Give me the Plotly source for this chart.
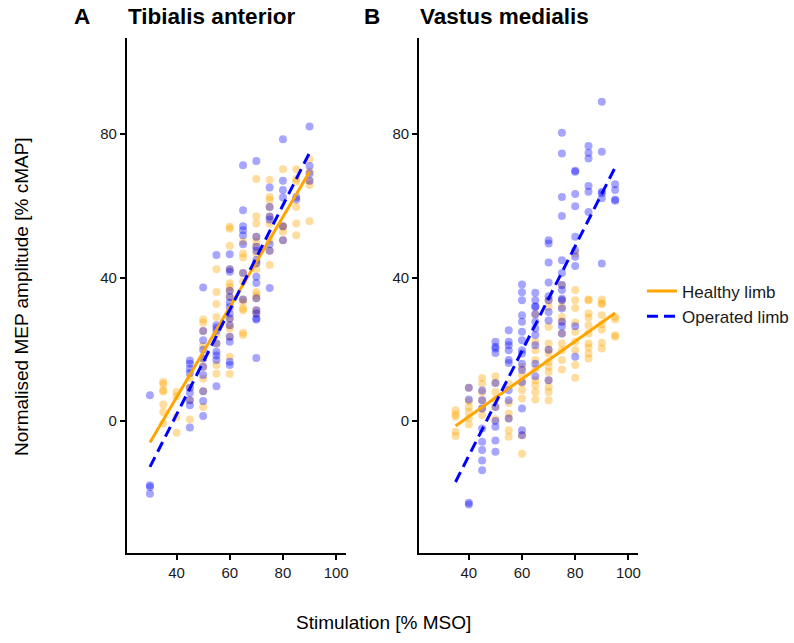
import plotly.graph_objects as go

# ---------------- data (stimulation level, [normalised MEP amplitudes]) ----------------
ta_healthy = [
    (35, [10.9, 10.3, 8.6, 8.2, 4.6, 2.5, -0.7]),
    (40, [8.1, 6.9, 1.1, -3.3]),
    (45, [12.0, 9.3, 5.8, 0.4]),
    (50, [28.3, 27.4, 25.1, 20.9, 17.4, 15.1, 11.8, 8.3, 3.9]),
    (55, [42.3, 36.0, 32.6, 29.0, 24.2, 21.6, 15.6, 13.2]),
    (60, [54.2, 53.6, 48.9, 42.3, 38.4, 37.4, 36.3, 34.6, 28.6, 26.7, 25.8, 23.5, 17.9, 13.2]),
    (65, [50.0, 46.7, 45.6, 41.3, 38.8, 33.9, 33.2, 31.4, 30.9, 24.6, 24.0]),
    (70, [67.5, 57.1, 55.1, 51.4, 50.0, 48.6, 46.7, 44.0, 42.3, 36.0, 35.1, 34.2, 30.9, 30.0]),
    (75, [67.2, 62.5, 61.6, 59.7, 57.0, 55.1, 50.5, 47.5, 43.5]),
    (80, [70.2, 54.2, 54.3, 52.8, 50.4]),
    (85, [70.2, 67.5, 66.8, 59.7, 55.1, 51.8]),
    (90, [73.0, 69.5, 67.0, 65.8, 55.7]),
]
ta_operated = [
    (30, [7.2, -17.9, -18.4, -20.3]),
    (45, [16.9, 16.0, 14.6, 13.4, 9.3, 7.8, 5.8, 4.4, -1.8]),
    (50, [37.2, 25.1, 22.5, 19.9, 17.4, 15.1, 12.8, 8.3, 5.6, 1.4]),
    (55, [46.3, 26.7, 26.0, 25.1, 21.6, 19.3, 18.3, 17.0, 9.7]),
    (60, [46.5, 42.3, 41.6, 36.3, 34.6, 33.0, 31.8, 30.0, 28.6, 26.7, 23.5, 22.1, 16.5, 15.6]),
    (65, [71.3, 58.8, 54.3, 53.2, 51.8, 49.3, 41.3, 33.9]),
    (70, [72.5, 51.4, 48.6, 47.5, 44.9, 44.0, 40.2, 38.5, 34.2, 30.9, 30.0, 28.6, 28.3, 17.6]),
    (75, [65.1, 59.7, 57.0, 56.2, 49.3, 47.5, 37.1]),
    (80, [78.6, 67.0, 64.4, 62.3, 54.3, 50.4]),
    (85, [62.5, 61.8]),
    (90, [82.1, 71.1, 69.0, 67.0]),
]
vm_healthy = [
    (35, [3.0, 1.9, 1.2, -3.0, -4.2]),
    (40, [9.3, 5.5, 3.9, 2.5, 0.8, -1.0]),
    (45, [12.0, 10.4, 8.1, 5.8, 3.5, 1.6]),
    (50, [12.5, 10.6, 8.1, 6.0, 3.9, 0.5]),
    (55, [10.4, 5.0, 2.1, 0.7, -2.6, -4.4]),
    (60, [15.0, 12.8, 10.5, 8.6, 6.3, -4.0, -9.1]),
    (65, [29.8, 22.0, 19.7, 17.0, 14.6, 11.4, 10.0, 8.1, 6.0]),
    (70, [33.7, 31.8, 26.3, 21.6, 19.9, 18.8, 16.5, 15.1, 13.7, 11.4, 9.5, 8.1, 5.8]),
    (75, [37.9, 33.7, 31.8, 29.0, 27.7, 24.4, 21.6, 19.7, 17.0, 14.4]),
    (80, [46.7, 36.5, 33.7, 31.5, 27.5, 24.9, 22.1, 19.7, 15.6, 12.1]),
    (85, [33.9, 33.7, 30.0, 28.9, 26.7, 24.4, 21.6, 20.5, 18.8, 17.4]),
    (90, [33.9, 32.8, 32.6, 29.5, 27.0, 25.5, 21.8, 20.2]),
    (95, [29.0, 28.3, 23.9, 23.5]),
]
vm_operated = [
    (40, [9.3, 6.0, -22.8, -23.3]),
    (45, [8.5, 5.8, 3.5, -2.1, -5.8, -8.1, -11.0, -13.7]),
    (50, [22.1, 20.7, 20.2, 19.0, 10.6, 3.9, 0.0, -1.6, -5.4, -8.6]),
    (55, [25.3, 22.1, 21.1, 19.7, 17.0, 16.2, 8.6, 5.8, 0.7]),
    (60, [38.1, 35.9, 33.7, 29.5, 27.7, 24.9, 22.5, 19.7, 18.8, 16.0, 14.2, 10.9, 3.5, -2.6, -4.0]),
    (65, [35.8, 33.7, 32.0, 31.8, 29.8, 27.7, 25.8, 24.0, 21.1, 16.0, 12.5]),
    (70, [50.4, 49.5, 44.2, 38.6, 34.8, 33.7, 30.4, 28.0, 19.9, 11.4]),
    (75, [80.4, 74.6, 62.5, 57.2, 44.8, 41.3, 37.9, 36.5, 34.1, 33.7, 31.4, 27.7, 26.4, 24.4]),
    (80, [69.8, 69.5, 63.3, 59.9, 51.4, 47.6, 45.8, 43.2, 26.4, 17.9]),
    (85, [76.7, 74.8, 73.2, 65.5, 63.9, 58.3]),
    (90, [89.0, 75.1, 63.9, 63.5, 62.1, 43.9]),
    (95, [66.0, 64.4, 61.8, 61.4]),
]

# linear fit lines (endpoints of fitted regression)
ta_healthy_fit_x = [30, 90]
ta_healthy_fit_y = [-6.0, 69.5]
ta_operated_fit_x = [30, 90]
ta_operated_fit_y = [-12.8, 74.8]
vm_healthy_fit_x = [35, 95]
vm_healthy_fit_y = [-1.4, 30.1]
vm_operated_fit_x = [35, 95]
vm_operated_fit_y = [-17.0, 70.7]

x_ticks = [40, 60, 80, 100]
y_ticks = [0, 40, 80]
panel_titles = ["Tibialis anterior", "Vastus medialis"]
panel_letters = ["A", "B"]
group_names = ["Healthy limb", "Operated limb"]

ORANGE = "#FFA500"
BLUE = "#0000FF"
FONT = "Liberation Sans, Arial, sans-serif"


def expand(series):
    xs, ys = [], []
    for stim, amps in series:
        for a in amps:
            xs.append(stim)
            ys.append(a)
    return xs, ys


W, H = 794, 643
fig = go.Figure()

panels = [
    ("x", "y", ta_healthy, ta_operated,
     (ta_healthy_fit_x, ta_healthy_fit_y), (ta_operated_fit_x, ta_operated_fit_y)),
    ("x2", "y2", vm_healthy, vm_operated,
     (vm_healthy_fit_x, vm_healthy_fit_y), (vm_operated_fit_x, vm_operated_fit_y)),
]

for i, (xa, ya, hs, os_, hfit, ofit) in enumerate(panels):
    hx, hy = expand(hs)
    ox, oy = expand(os_)
    fig.add_trace(go.Scatter(x=hx, y=hy, mode="markers", xaxis=xa, yaxis=ya,
                             marker=dict(color=ORANGE, size=8, opacity=0.38, line=dict(width=0)),
                             showlegend=False, hoverinfo="skip"))
    fig.add_trace(go.Scatter(x=ox, y=oy, mode="markers", xaxis=xa, yaxis=ya,
                             marker=dict(color=BLUE, size=8, opacity=0.35, line=dict(width=0)),
                             showlegend=False, hoverinfo="skip"))
for i, (xa, ya, hs, os_, hfit, ofit) in enumerate(panels):
    fig.add_trace(go.Scatter(x=hfit[0], y=hfit[1], mode="lines", xaxis=xa, yaxis=ya,
                             line=dict(color=ORANGE, width=3), name=group_names[0],
                             showlegend=(i == 0), legendrank=1))
    fig.add_trace(go.Scatter(x=ofit[0], y=ofit[1], mode="lines", xaxis=xa, yaxis=ya,
                             line=dict(color=BLUE, width=3, dash="11px,6px"), name=group_names[1],
                             showlegend=(i == 0), legendrank=2))

xr = [21.25, 103.75]
yr = [-36.8, 106.8]
ydom = [(H - 553) / H, (H - 38) / H]
common_x = dict(range=xr, tickvals=x_ticks, showline=True, linecolor="black", linewidth=1.5,
                ticks="outside", ticklen=5, tickwidth=1.5, tickcolor="black",
                showgrid=False, zeroline=False,
                tickfont=dict(family=FONT, size=15, color="#1a1a1a"))
common_y = dict(range=yr, tickvals=y_ticks, showline=True, linecolor="black", linewidth=1.5,
                ticks="outside", ticklen=5, tickwidth=1.5, tickcolor="black",
                showgrid=False, zeroline=False, domain=ydom,
                tickfont=dict(family=FONT, size=15, color="#1a1a1a"))

fig.update_layout(
    width=W, height=H,
    margin=dict(l=0, r=0, t=0, b=0),
    paper_bgcolor="white", plot_bgcolor="white",
    xaxis=dict(common_x, domain=[127 / W, 347 / W], anchor="y"),
    yaxis=dict(common_y, anchor="x"),
    xaxis2=dict(common_x, domain=[420 / W, 640 / W], anchor="y2"),
    yaxis2=dict(common_y, anchor="x2"),
    legend=dict(x=644 / W, y=(H - 304) / H, xanchor="left", yanchor="middle",
                font=dict(family=FONT, size=17, color="#1a1a1a"),
                bgcolor="rgba(0,0,0,0)", tracegroupgap=0),
    showlegend=True,
)

annotations = [
    dict(text=panel_letters[0], x=72 / W, y=(H - 16) / H, xanchor="left", yanchor="middle",
         font=dict(family=FONT, size=22.5, color="black"), showarrow=False),
    dict(text=panel_titles[0], x=126 / W, y=(H - 16) / H, xanchor="left", yanchor="middle",
         font=dict(family=FONT, size=22.5, color="black"), showarrow=False),
    dict(text=panel_letters[1], x=363 / W, y=(H - 16) / H, xanchor="left", yanchor="middle",
         font=dict(family=FONT, size=22.5, color="black"), showarrow=False),
    dict(text=panel_titles[1], x=419 / W, y=(H - 16) / H, xanchor="left", yanchor="middle",
         font=dict(family=FONT, size=22.5, color="black"), showarrow=False),
    dict(text="Normalised MEP amplitude [% cMAP]", x=22 / W, y=(H - 296) / H, textangle=-90,
         xanchor="center", yanchor="middle", font=dict(family=FONT, size=19, color="black"),
         showarrow=False),
    dict(text="Stimulation [% MSO]", x=384 / W, y=(H - 622) / H, xanchor="center", yanchor="middle",
         font=dict(family=FONT, size=19, color="black"), showarrow=False),
]
for a in annotations:
    a["xref"] = "paper"
    a["yref"] = "paper"
    if a["text"] in panel_letters + panel_titles:
        a["text"] = "<b>" + a["text"] + "</b>"
fig.update_layout(annotations=annotations)

fig.write_html("out.html")
